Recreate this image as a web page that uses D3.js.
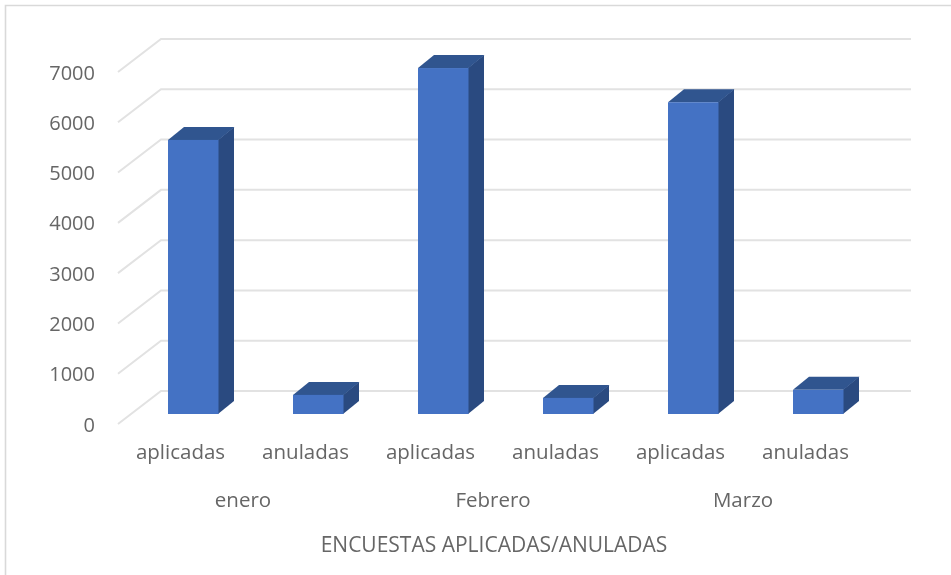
<!DOCTYPE html>
<html>
<head>
<meta charset="utf-8">
<script src="https://cdn.jsdelivr.net/npm/d3@7"></script>
<style>
  html, body { margin: 0; padding: 0; background: #fff; overflow: hidden; }
  svg { display: block; filter: blur(0.6px); }
  text { font-family: "Open Sans", sans-serif; fill: #666; }
</style>
</head>
<body>
<svg width="951" height="575"></svg>
<script>
let months = ["enero", "Febrero", "Marzo"];
let categories = ["enero-aplicadas", "enero-anuladas", "Febrero-aplicadas", "Febrero-anuladas", "Marzo-aplicadas", "Marzo-anuladas"];
let barLabels = ["aplicadas", "anuladas", "aplicadas", "anuladas", "aplicadas", "anuladas"];
let values = [5450, 380, 6880, 320, 6200, 480];
let yTicks = [0, 1000, 2000, 3000, 4000, 5000, 6000, 7000];
let axisTitle = "ENCUESTAS APLICADAS/ANULADAS";

let svg = d3.select("svg");

// the floor of the 3d box: front edge to back edge
let depthX = 43, depthY = -33;
let barDepthX = 16, barDepthY = -13;
let offX = 12.5, offY = -10;

let xScale = d3.scaleBand().domain(categories).range([118, 868]).paddingInner(0).paddingOuter(0);
let groupScale = d3.scaleBand().domain(months).range([118, 868]);
let yScale = d3.scaleLinear().domain([0, 7000]).range([424, 72]);

// frame
svg.append("path")
  .attr("d", "M5.5,575V5.5H951")
  .attr("fill", "none")
  .attr("stroke", "#d9d9d9")
  .attr("stroke-width", 1.6);

// gridlines, slanted part and back wall part
let grid = svg.append("g").selectAll("path").data(yTicks).enter().append("path")
  .attr("d", function (d) {
    let y = yScale(d);
    return "M118," + y + "L" + (118 + depthX) + "," + (y + depthY) + "H" + (868 + depthX);
  })
  .attr("fill", "none")
  .attr("stroke", "#e2e2e2")
  .attr("stroke-width", 2);

// y labels
let yAxis = svg.append("g")
  .attr("transform", "translate(104,0)")
  .call(d3.axisLeft(yScale).tickValues(yTicks).tickSize(0).tickPadding(9).tickFormat(d3.format("d")));
yAxis.select(".domain").remove();
yAxis.selectAll("text").style("font-size", "20px").attr("dy", "0.35em");

// bars
let barWidth = 50.5;
let bars = svg.append("g").selectAll("g").data(values).enter().append("g");

function barLeft(i) {
  return xScale(categories[i]) + xScale.bandwidth() / 2 - 25 + offX;
}

bars.append("path") // side
  .attr("fill", "#2a4a80")
  .attr("d", function (d, i) {
    let x = barLeft(i) + barWidth - 0.5, y0 = yScale(0) + offY, y1 = yScale(d) + offY;
    return "M" + x + "," + y0 + "V" + y1 + "l" + barDepthX + "," + barDepthY + "V" + (y0 + barDepthY) + "Z";
  });

bars.append("path") // top
  .attr("fill", "#30558f")
  .attr("d", function (d, i) {
    let x = barLeft(i), y1 = yScale(d) + offY;
    return "M" + x + "," + y1 + "h" + barWidth + "l" + barDepthX + "," + barDepthY + "h" + (-barWidth) + "Z";
  });

bars.append("rect") // front
  .attr("fill", "#4472c4")
  .attr("x", function (d, i) { return barLeft(i); })
  .attr("width", barWidth)
  .attr("y", function (d) { return yScale(d) + offY; })
  .attr("height", function (d) { return yScale(0) - yScale(d); });

// category labels
let xAxis = svg.append("g")
  .attr("transform", "translate(0,452)")
  .call(d3.axisBottom(xScale).tickSize(0).tickPadding(0).tickFormat(function (d, i) { return barLabels[i]; }));
xAxis.select(".domain").remove();
xAxis.selectAll("text").style("font-size", "20.5px").attr("y", 0).attr("dy", "0.32em");

let monthAxis = svg.append("g")
  .attr("transform", "translate(0,500)")
  .call(d3.axisBottom(groupScale).tickSize(0).tickPadding(0));
monthAxis.select(".domain").remove();
monthAxis.selectAll("text").style("font-size", "20.5px").attr("y", 0).attr("dy", "0.32em");

svg.append("text")
  .attr("x", 494)
  .attr("y", 545)
  .attr("dy", "0.32em")
  .attr("text-anchor", "middle")
  .style("font-size", "21px")
  .text(axisTitle);
</script>
</body>
</html>
